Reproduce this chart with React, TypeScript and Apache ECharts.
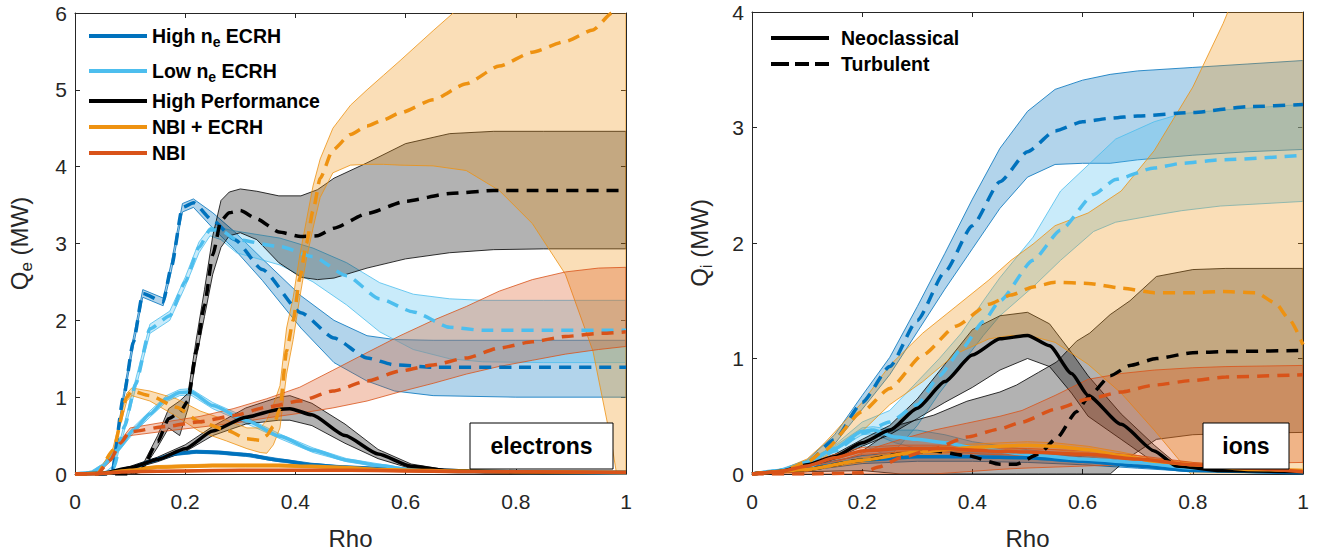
import React, { useEffect, useRef } from 'react';
import * as echarts from 'echarts';

// ---------------- Colours / fonts ----------------
const C_HNE = '#0072BD';
const C_LNE = '#4DBEEE';
const C_HP = '#000000';
const C_NE = '#EE9211';
const C_NBI = '#D95319';
const FONT = '"Liberation Sans", Arial, Helvetica, sans-serif';
const AXIS_C = '#262626';

// ---------------- Tick values ----------------
const rhoTicks = [0, 0.2, 0.4, 0.6, 0.8, 1];
const qeTicks = [0, 1, 2, 3, 4, 5, 6];
const qiTicks = [0, 1, 2, 3, 4];

// ================= ELECTRONS (left) =================
// High ne ECRH
const eHneTurbRho = [0, 0.05, 0.067, 0.088, 0.106, 0.123, 0.16, 0.175, 0.195, 0.215, 0.25, 0.29, 0.34, 0.41, 0.47, 0.53, 0.58, 0.65, 0.8, 1.0];
const eHneTurb = [0, 0, 0.02, 1.0, 1.72, 2.35, 2.24, 2.7, 3.47, 3.53, 3.3, 3.05, 2.66, 2.1, 1.77, 1.51, 1.42, 1.39, 1.39, 1.39];
const eHneTurbLo = [0, 0, 0, 0.95, 1.66, 2.3, 2.19, 2.64, 3.41, 3.47, 3.2, 2.92, 2.52, 1.9, 1.45, 1.21, 1.08, 1.02, 1.0, 1.0];
const eHneTurbHi = [0, 0, 0.04, 1.05, 1.78, 2.4, 2.29, 2.76, 3.52, 3.58, 3.4, 3.15, 2.8, 2.32, 2.0, 1.8, 1.75, 1.74, 1.74, 1.74];
const eHneNeoRho = [0, 0.06, 0.1, 0.14, 0.18, 0.22, 0.26, 0.31, 0.37, 0.43, 0.49, 0.55, 0.65, 0.8, 1.0];
const eHneNeo = [0, 0.01, 0.07, 0.17, 0.26, 0.29, 0.28, 0.25, 0.18, 0.12, 0.09, 0.07, 0.05, 0.03, 0.02];
const eHneNeoLo = [0, 0, 0.05, 0.15, 0.24, 0.27, 0.26, 0.23, 0.16, 0.11, 0.08, 0.06, 0.04, 0.02, 0.01];
const eHneNeoHi = [0, 0.02, 0.09, 0.19, 0.28, 0.31, 0.3, 0.27, 0.2, 0.14, 0.1, 0.08, 0.06, 0.04, 0.03];
// Low ne ECRH
const eLneTurbRho = [0, 0.05, 0.07, 0.09, 0.11, 0.136, 0.172, 0.2, 0.225, 0.245, 0.265, 0.293, 0.372, 0.432, 0.493, 0.553, 0.614, 0.68, 0.74, 0.85, 1.0];
const eLneTurb = [0, 0, 0.08, 0.62, 1.17, 1.89, 2.06, 2.5, 2.95, 3.18, 3.17, 3.05, 2.96, 2.83, 2.58, 2.28, 2.11, 1.91, 1.87, 1.87, 1.87];
const eLneTurbLo = [0, 0, 0.05, 0.57, 1.11, 1.83, 2.0, 2.44, 2.88, 3.1, 3.05, 2.88, 2.72, 2.5, 2.2, 1.85, 1.62, 1.5, 1.46, 1.45, 1.45];
const eLneTurbHi = [0, 0, 0.11, 0.67, 1.23, 1.95, 2.12, 2.56, 3.02, 3.21, 3.2, 3.16, 3.07, 2.94, 2.75, 2.49, 2.34, 2.28, 2.26, 2.26, 2.26];
const eLneNeoRho = [0, 0.03, 0.05, 0.076, 0.106, 0.136, 0.166, 0.19, 0.21, 0.25, 0.31, 0.372, 0.432, 0.493, 0.553, 0.614, 0.7, 0.85, 1.0];
const eLneNeo = [0, 0.02, 0.1, 0.31, 0.57, 0.78, 0.98, 1.06, 1.07, 0.89, 0.7, 0.49, 0.31, 0.18, 0.11, 0.05, 0.03, 0.02, 0.01];
const eLneNeoLo = [0, 0, 0.07, 0.27, 0.53, 0.74, 0.94, 1.02, 1.03, 0.85, 0.66, 0.46, 0.28, 0.16, 0.09, 0.04, 0.02, 0.01, 0];
const eLneNeoHi = [0, 0.04, 0.13, 0.35, 0.61, 0.82, 1.02, 1.1, 1.11, 0.93, 0.74, 0.52, 0.34, 0.2, 0.13, 0.06, 0.04, 0.03, 0.02];
// High Performance
const eHpTurbRho = [0, 0.1, 0.12, 0.15, 0.17, 0.19, 0.205, 0.22, 0.235, 0.25, 0.265, 0.28, 0.3, 0.33, 0.37, 0.41, 0.44, 0.47, 0.53, 0.6, 0.68, 0.76, 0.85, 1.0];
const eHpTurb = [0, 0, 0.05, 0.42, 0.72, 0.8, 0.95, 1.6, 2.2, 2.85, 3.3, 3.4, 3.43, 3.32, 3.15, 3.09, 3.1, 3.2, 3.39, 3.55, 3.65, 3.69, 3.69, 3.69];
const eHpTurbLo = [0, 0, 0.02, 0.35, 0.6, 0.5, 0.85, 1.5, 2.05, 2.6, 2.95, 3.1, 3.14, 3.05, 2.75, 2.56, 2.53, 2.55, 2.68, 2.8, 2.88, 2.92, 2.93, 2.93];
const eHpTurbHi = [0, 0, 0.08, 0.5, 0.85, 0.95, 1.05, 1.75, 2.4, 3.1, 3.56, 3.67, 3.71, 3.68, 3.62, 3.62, 3.7, 3.85, 4.05, 4.3, 4.43, 4.46, 4.46, 4.46];
const eHpNeoRho = [0, 0.05, 0.1, 0.15, 0.2, 0.25, 0.31, 0.37, 0.39, 0.43, 0.49, 0.55, 0.61, 0.67, 0.75, 0.85, 1.0];
const eHpNeo = [0, 0.01, 0.08, 0.19, 0.33, 0.56, 0.74, 0.84, 0.85, 0.77, 0.5, 0.26, 0.1, 0.05, 0.03, 0.02, 0.02];
const eHpNeoLo = [0, 0.01, 0.06, 0.16, 0.29, 0.5, 0.65, 0.7, 0.7, 0.63, 0.4, 0.2, 0.07, 0.03, 0.02, 0.02, 0.02];
const eHpNeoHi = [0, 0.01, 0.1, 0.22, 0.38, 0.62, 0.86, 1.0, 1.02, 0.92, 0.65, 0.32, 0.13, 0.06, 0.03, 0.02, 0.02];
// NBI + ECRH
const eNeTurbRho = [0, 0.04, 0.069, 0.094, 0.103, 0.136, 0.184, 0.227, 0.275, 0.312, 0.336, 0.348, 0.36, 0.372, 0.384, 0.396, 0.408, 0.42, 0.432, 0.445, 0.468, 0.5, 0.53, 0.56, 0.59, 0.65, 0.71, 0.77, 0.83, 0.89, 0.94, 0.975, 1.0];
const eNeTurb = [0, 0, 0.31, 1.0, 1.08, 1.02, 0.87, 0.68, 0.57, 0.46, 0.44, 0.5, 0.62, 0.85, 1.6, 2.0, 2.55, 3.0, 3.43, 3.85, 4.22, 4.42, 4.53, 4.61, 4.7, 4.87, 5.08, 5.31, 5.49, 5.63, 5.78, 6.0, 6.15];
const eNeTurbLo = [0, 0, 0.28, 0.95, 1.02, 0.95, 0.75, 0.55, 0.43, 0.33, 0.28, 0.27, 0.38, 0.6, 1.3, 1.75, 2.3, 2.8, 3.2, 3.6, 3.92, 4.02, 4.03, 4.03, 4.02, 4.01, 3.95, 3.69, 3.26, 2.6, 1.6, 0.35, -0.75];
const eNeTurbHi = [0, 0, 0.34, 1.05, 1.12, 1.08, 0.98, 0.82, 0.7, 0.6, 0.6, 0.7, 0.9, 1.15, 1.9, 2.3, 2.85, 3.3, 3.75, 4.1, 4.5, 4.8, 5.0, 5.19, 5.38, 5.77, 6.15, 6.6, 7.1, 7.6, 8.0, 8.3, 8.5];
const eNeNeoRho = [0, 0.05, 0.1, 0.15, 0.2, 0.25, 0.31, 0.37, 0.43, 0.5, 0.55, 0.61, 0.68, 0.8, 1.0];
const eNeNeo = [0, 0.01, 0.05, 0.09, 0.1, 0.11, 0.11, 0.11, 0.1, 0.08, 0.06, 0.05, 0.04, 0.03, 0.02];
const eNeNeoLo = [0, 0, 0.03, 0.07, 0.08, 0.09, 0.09, 0.09, 0.08, 0.06, 0.05, 0.04, 0.03, 0.02, 0.01];
const eNeNeoHi = [0, 0.02, 0.07, 0.11, 0.12, 0.13, 0.13, 0.13, 0.12, 0.1, 0.08, 0.06, 0.05, 0.04, 0.03];
// NBI
const eNbiTurbRho = [0, 0.04, 0.064, 0.082, 0.1, 0.166, 0.227, 0.287, 0.348, 0.408, 0.468, 0.53, 0.59, 0.65, 0.71, 0.77, 0.83, 0.89, 0.95, 1.0];
const eNbiTurb = [0, 0, 0.18, 0.4, 0.55, 0.62, 0.68, 0.76, 0.87, 0.95, 1.08, 1.21, 1.34, 1.42, 1.51, 1.64, 1.72, 1.79, 1.83, 1.85];
const eNbiTurbLo = [0, 0, 0.16, 0.37, 0.5, 0.56, 0.61, 0.66, 0.73, 0.79, 0.86, 0.95, 1.07, 1.18, 1.3, 1.4, 1.48, 1.56, 1.62, 1.66];
const eNbiTurbHi = [0, 0, 0.2, 0.43, 0.6, 0.68, 0.75, 0.85, 0.98, 1.13, 1.35, 1.58, 1.8, 2.0, 2.18, 2.38, 2.53, 2.63, 2.68, 2.69];
const eNbiNeoRho = [0, 0.04, 0.07, 0.1, 0.2, 0.3, 0.4, 0.5, 0.6, 0.7, 0.8, 1.0];
const eNbiNeo = [0, 0, 0.02, 0.03, 0.04, 0.05, 0.05, 0.05, 0.04, 0.03, 0.03, 0.02];
const eNbiNeoLo = [0, 0, 0.01, 0.02, 0.03, 0.04, 0.04, 0.04, 0.03, 0.02, 0.02, 0.01];
const eNbiNeoHi = [0, 0, 0.03, 0.04, 0.05, 0.06, 0.06, 0.06, 0.05, 0.04, 0.04, 0.03];

// ================= IONS (right) =================
const iHneTurbRho = [0, 0.05, 0.1, 0.15, 0.2, 0.25, 0.3, 0.35, 0.4, 0.45, 0.5, 0.55, 0.6, 0.65, 0.7, 0.8, 0.9, 1.0];
const iHneTurb = [0, 0.02, 0.1, 0.3, 0.62, 0.93, 1.33, 1.75, 2.15, 2.53, 2.79, 2.97, 3.05, 3.08, 3.1, 3.13, 3.18, 3.2];
const iHneTurbLo = [0, 0.01, 0.08, 0.26, 0.56, 0.86, 1.23, 1.6, 1.95, 2.3, 2.57, 2.68, 2.69, 2.69, 2.72, 2.76, 2.79, 2.81];
const iHneTurbHi = [0, 0.03, 0.12, 0.34, 0.68, 1.01, 1.45, 1.91, 2.38, 2.82, 3.14, 3.33, 3.41, 3.46, 3.49, 3.52, 3.55, 3.58];
const iHneNeoRho = [0, 0.1, 0.2, 0.3, 0.4, 0.5, 0.6, 0.7, 0.8, 1.0];
const iHneNeo = [0, 0.05, 0.12, 0.15, 0.15, 0.14, 0.11, 0.07, 0.03, 0.01];
const iHneNeoLo = [0, 0.03, 0.09, 0.11, 0.11, 0.1, 0.08, 0.05, 0.02, 0];
const iHneNeoHi = [0, 0.07, 0.16, 0.2, 0.2, 0.19, 0.15, 0.1, 0.05, 0.02];
const iLneTurbRho = [0, 0.1, 0.15, 0.2, 0.25, 0.3, 0.34, 0.38, 0.42, 0.45, 0.51, 0.56, 0.62, 0.66, 0.73, 0.78, 0.85, 1.0];
const iLneTurb = [0, 0.05, 0.2, 0.35, 0.45, 0.6, 0.85, 1.08, 1.32, 1.5, 1.85, 2.11, 2.42, 2.55, 2.65, 2.69, 2.72, 2.76];
const iLneTurbLo = [0, 0.04, 0.15, 0.25, 0.15, 0.42, 0.7, 0.95, 1.2, 1.37, 1.62, 1.85, 2.1, 2.18, 2.24, 2.28, 2.32, 2.36];
const iLneTurbHi = [0, 0.06, 0.25, 0.45, 0.55, 0.8, 1.0, 1.22, 1.5, 1.7, 2.05, 2.45, 2.72, 2.9, 3.05, 3.12, 3.15, 3.2];
const iLneNeoRho = [0, 0.05, 0.1, 0.15, 0.2, 0.22, 0.26, 0.3, 0.35, 0.4, 0.5, 0.6, 0.7, 0.8, 1.0];
const iLneNeo = [0, 0.03, 0.1, 0.22, 0.37, 0.38, 0.32, 0.3, 0.27, 0.23, 0.17, 0.13, 0.1, 0.05, 0.02];
const iLneNeoLo = [0, 0.02, 0.08, 0.2, 0.34, 0.35, 0.27, 0.22, 0.2, 0.18, 0.13, 0.1, 0.07, 0.03, 0.01];
const iLneNeoHi = [0, 0.04, 0.12, 0.24, 0.4, 0.41, 0.38, 0.38, 0.34, 0.28, 0.21, 0.16, 0.12, 0.07, 0.03];
const iHpTurbRho = [0, 0.1, 0.2, 0.27, 0.33, 0.39, 0.45, 0.48, 0.52, 0.553, 0.589, 0.613, 0.65, 0.686, 0.734, 0.8, 0.86, 1.0];
const iHpTurb = [0, 0.04, 0.12, 0.17, 0.2, 0.16, 0.085, 0.085, 0.17, 0.31, 0.54, 0.68, 0.85, 0.94, 1.0, 1.05, 1.06, 1.07];
const iHpTurbLo = [0, 0.02, 0.03, 0, 0, 0, 0, 0, 0, 0, 0, 0, 0, 0.15, 0.3, 0.34, 0.35, 0.36];
const iHpTurbHi = [0, 0.06, 0.2, 0.43, 0.51, 0.63, 0.71, 0.77, 0.88, 0.97, 1.15, 1.22, 1.38, 1.5, 1.71, 1.77, 1.78, 1.78];
const iHpNeoRho = [0, 0.05, 0.1, 0.15, 0.2, 0.25, 0.3, 0.35, 0.4, 0.45, 0.5, 0.54, 0.58, 0.61, 0.67, 0.73, 0.77, 0.85, 1.0];
const iHpNeo = [0, 0.02, 0.08, 0.15, 0.27, 0.38, 0.57, 0.8, 1.03, 1.17, 1.2, 1.11, 0.87, 0.68, 0.43, 0.2, 0.07, 0.03, 0.02];
const iHpNeoLo = [0, 0.02, 0.07, 0.13, 0.24, 0.34, 0.48, 0.62, 0.75, 0.9, 1.0, 0.93, 0.7, 0.5, 0.3, 0.1, 0.03, 0.02, 0.02];
const iHpNeoHi = [0, 0.02, 0.09, 0.17, 0.3, 0.42, 0.65, 0.95, 1.25, 1.37, 1.4, 1.3, 1.05, 0.85, 0.52, 0.25, 0.09, 0.04, 0.02];
const iNeTurbRho = [0, 0.05, 0.1, 0.13, 0.2, 0.25, 0.31, 0.37, 0.43, 0.47, 0.51, 0.55, 0.61, 0.67, 0.73, 0.8, 0.855, 0.915, 0.95, 0.975, 1.0];
const iNeTurb = [0, 0.02, 0.1, 0.2, 0.54, 0.74, 1.03, 1.28, 1.47, 1.55, 1.62, 1.66, 1.65, 1.61, 1.57, 1.57, 1.58, 1.57, 1.48, 1.34, 1.12];
const iNeTurbLo = [0, 0.01, 0.07, 0.14, 0.37, 0.6, 0.8, 1.04, 1.17, 1.2, 1.19, 1.14, 0.95, 0.7, 0.38, -0.02, -0.5, -1.0, -1.3, -1.6, -2.0];
const iNeTurbHi = [0, 0.03, 0.13, 0.26, 0.62, 0.94, 1.22, 1.45, 1.68, 1.85, 1.99, 2.15, 2.26, 2.45, 2.8, 3.35, 3.9, 4.6, 5.0, 5.3, 5.6];
const iNeNeoRho = [0, 0.1, 0.2, 0.3, 0.4, 0.5, 0.55, 0.61, 0.67, 0.73, 0.8, 0.9, 1.0];
const iNeNeo = [0, 0.04, 0.12, 0.19, 0.23, 0.25, 0.24, 0.21, 0.16, 0.11, 0.08, 0.04, 0.03];
const iNeNeoLo = [0, 0.03, 0.1, 0.16, 0.2, 0.22, 0.21, 0.18, 0.13, 0.09, 0.06, 0.03, 0.02];
const iNeNeoHi = [0, 0.05, 0.14, 0.22, 0.26, 0.28, 0.27, 0.24, 0.19, 0.13, 0.1, 0.05, 0.04];
const iNbiTurbRho = [0, 0.1, 0.2, 0.23, 0.27, 0.33, 0.39, 0.45, 0.49, 0.55, 0.61, 0.67, 0.73, 0.8, 0.86, 1.0];
const iNbiTurb = [0, 0, 0.01, 0.06, 0.14, 0.22, 0.32, 0.39, 0.45, 0.56, 0.65, 0.71, 0.77, 0.81, 0.84, 0.86];
const iNbiTurbLo = [0, 0, 0, 0, 0, 0, 0.02, 0.04, 0.05, 0.06, 0.07, 0.08, 0.08, 0.09, 0.09, 0.1];
const iNbiTurbHi = [0, 0.02, 0.18, 0.24, 0.3, 0.38, 0.44, 0.5, 0.55, 0.68, 0.82, 0.87, 0.9, 0.92, 0.93, 0.94];
const iNbiNeoRho = [0, 0.05, 0.1, 0.15, 0.2, 0.27, 0.35, 0.43, 0.5, 0.61, 0.7, 0.8, 0.9, 1.0];
const iNbiNeo = [0, 0.02, 0.07, 0.14, 0.2, 0.22, 0.22, 0.2, 0.19, 0.17, 0.13, 0.08, 0.05, 0.02];
const iNbiNeoLo = [0, 0.01, 0.05, 0.11, 0.17, 0.19, 0.19, 0.17, 0.16, 0.14, 0.1, 0.06, 0.03, 0.01];
const iNbiNeoHi = [0, 0.03, 0.09, 0.17, 0.23, 0.25, 0.25, 0.23, 0.22, 0.2, 0.16, 0.1, 0.07, 0.03];

// ---------------- helpers ----------------
function rgba(hex: string, a: number) {
  const n = parseInt(hex.slice(1), 16);
  return `rgba(${(n >> 16) & 255},${(n >> 8) & 255},${n & 255},${a})`;
}

function band(name: string, ax: number, rho: number[], lo: number[], hi: number[], color: string) {
  const rows = rho.map((x, i) => [x, lo[i], hi[i]]);
  return {
    type: 'custom',
    name,
    xAxisIndex: ax,
    yAxisIndex: ax,
    clip: true,
    silent: true,
    data: rows,
    renderItem: (params: any, api: any) => {
      if (params.dataIndex !== 0) return null;
      const up = rows.map((r) => api.coord([r[0], r[2]]));
      const dn = rows.map((r) => api.coord([r[0], r[1]])).reverse();
      return {
        type: 'polygon',
        shape: { points: up.concat(dn) },
        style: { fill: rgba(color, 0.3), stroke: color, lineWidth: 0.8 },
      };
    },
  };
}

function line(name: string, ax: number, rho: number[], q: number[], color: string, dashed: boolean) {
  return {
    type: 'line',
    name,
    xAxisIndex: ax,
    yAxisIndex: ax,
    data: rho.map((x, i) => [x, q[i]]),
    showSymbol: false,
    symbol: 'none',
    smooth: 0.2,
    smoothMonotone: 'x',
    clip: true,
    silent: true,
    color,
    lineStyle: { color, width: 3.5, type: dashed ? [12, 8] : 'solid', cap: 'butt' },
  };
}

const N_HNE = 'High ne ECRH';
const N_LNE = 'Low ne ECRH';
const N_HP = 'High Performance';
const N_NE = 'NBI + ECRH';
const N_NBI = 'NBI';

function scenario(name: string, ax: number, color: string,
  tR: number[], t: number[], tLo: number[], tHi: number[],
  nR: number[], n: number[], nLo: number[], nHi: number[]) {
  return [
    band(name, ax, tR, tLo, tHi, color),
    line(name, ax, tR, t, color, true),
    band(name, ax, nR, nLo, nHi, color),
    line(name, ax, nR, n, color, false),
  ];
}

const axisCommon = {
  axisLine: { show: true, onZero: false, lineStyle: { color: AXIS_C, width: 1 } },
  axisTick: { show: true, inside: true, length: 5, lineStyle: { color: AXIS_C, width: 1 } },
  splitLine: { show: false },
};

function xAxes(grid: number) {
  return [
    {
      gridIndex: grid, type: 'value', min: rhoTicks[0], max: rhoTicks[rhoTicks.length - 1], interval: 0.2,
      position: 'bottom', name: 'Rho', nameLocation: 'middle', nameGap: 52,
      nameTextStyle: { fontSize: 24, color: AXIS_C, fontFamily: FONT },
      axisLabel: { fontSize: 21, color: AXIS_C, fontFamily: FONT, margin: 17 },
      ...axisCommon,
    },
    {
      gridIndex: grid, type: 'value', min: rhoTicks[0], max: rhoTicks[rhoTicks.length - 1], interval: 0.2,
      position: 'top', axisLabel: { show: false }, ...axisCommon,
    },
  ];
}

function yAxes(grid: number, ticks: number[], sub: string, gap: number) {
  return [
    {
      gridIndex: grid, type: 'value', min: ticks[0], max: ticks[ticks.length - 1], interval: 1,
      position: 'left', name: `{q|Q}{s|${sub}}{q| (MW)}`, nameLocation: 'middle', nameRotate: 90, nameGap: gap,
      nameTextStyle: {
        color: AXIS_C, fontFamily: FONT, fontSize: 24,
        rich: {
          q: { fontSize: 24, color: AXIS_C, fontFamily: FONT, lineHeight: 32, verticalAlign: 'middle' },
          s: { fontSize: 17, color: AXIS_C, fontFamily: FONT, lineHeight: 17, verticalAlign: 'bottom' },
        },
      },
      axisLabel: { fontSize: 21, color: AXIS_C, fontFamily: FONT, margin: 8 },
      ...axisCommon,
    },
    {
      gridIndex: grid, type: 'value', min: ticks[0], max: ticks[ticks.length - 1], interval: 1,
      position: 'right', axisLabel: { show: false }, ...axisCommon,
    },
  ];
}

const LEG_FS = 19.5;
const legendRich = {
  b: { fontFamily: FONT, fontSize: LEG_FS, fontWeight: 'bold', color: '#000', lineHeight: 26, verticalAlign: 'middle' },
  bp: { fontFamily: FONT, fontSize: LEG_FS, fontWeight: 'bold', color: '#000', lineHeight: 26, verticalAlign: 'middle', padding: [0, 0, 0, 7] },
  s: { fontFamily: FONT, fontSize: 14, fontWeight: 'bold', color: '#000', lineHeight: 14, verticalAlign: 'bottom' },
};

function legendFmt(name: string) {
  if (name === N_HNE) return '{b|High n}{s|e}{b| ECRH}';
  if (name === N_LNE) return '{b|Low n}{s|e}{b| ECRH}';
  if (name === 'Neoclassical' || name === 'Turbulent') return `{bp|${name}}`;
  return `{b|${name}}`;
}

function legendOne(name: string, left: number, top: number, color: string, icon: string) {
  return {
    show: true, left, top, padding: 0, orient: 'horizontal', selectedMode: false,
    itemWidth: 58, itemHeight: 4,
    data: [{ name, icon, itemStyle: { color } }],
    formatter: legendFmt,
    textStyle: { fontFamily: FONT, fontSize: LEG_FS, fontWeight: 'bold', color: '#000', rich: legendRich },
  };
}

const DASH_ICON = 'path://M0,0H18V4H0Z M24,0H38V4H24Z M44,0H58V4H44Z';

export default function App() {
  const ref = useRef<HTMLDivElement>(null);
  useEffect(() => {
    if (!ref.current) return;
    const chart = echarts.init(ref.current, undefined, { renderer: 'svg' });
    const series: any[] = [
      ...scenario(N_HNE, 0, C_HNE, eHneTurbRho, eHneTurb, eHneTurbLo, eHneTurbHi, eHneNeoRho, eHneNeo, eHneNeoLo, eHneNeoHi),
      ...scenario(N_LNE, 0, C_LNE, eLneTurbRho, eLneTurb, eLneTurbLo, eLneTurbHi, eLneNeoRho, eLneNeo, eLneNeoLo, eLneNeoHi),
      ...scenario(N_HP, 0, C_HP, eHpTurbRho, eHpTurb, eHpTurbLo, eHpTurbHi, eHpNeoRho, eHpNeo, eHpNeoLo, eHpNeoHi),
      ...scenario(N_NE, 0, C_NE, eNeTurbRho, eNeTurb, eNeTurbLo, eNeTurbHi, eNeNeoRho, eNeNeo, eNeNeoLo, eNeNeoHi),
      ...scenario(N_NBI, 0, C_NBI, eNbiTurbRho, eNbiTurb, eNbiTurbLo, eNbiTurbHi, eNbiNeoRho, eNbiNeo, eNbiNeoLo, eNbiNeoHi),
      ...scenario(N_HNE, 2, C_HNE, iHneTurbRho, iHneTurb, iHneTurbLo, iHneTurbHi, iHneNeoRho, iHneNeo, iHneNeoLo, iHneNeoHi),
      ...scenario(N_LNE, 2, C_LNE, iLneTurbRho, iLneTurb, iLneTurbLo, iLneTurbHi, iLneNeoRho, iLneNeo, iLneNeoLo, iLneNeoHi),
      ...scenario(N_HP, 2, C_HP, iHpTurbRho, iHpTurb, iHpTurbLo, iHpTurbHi, iHpNeoRho, iHpNeo, iHpNeoLo, iHpNeoHi),
      ...scenario(N_NE, 2, C_NE, iNeTurbRho, iNeTurb, iNeTurbLo, iNeTurbHi, iNeNeoRho, iNeNeo, iNeNeoLo, iNeNeoHi),
      ...scenario(N_NBI, 2, C_NBI, iNbiTurbRho, iNbiTurb, iNbiTurbLo, iNbiTurbHi, iNbiNeoRho, iNbiNeo, iNbiNeoLo, iNbiNeoHi),
      { type: 'line', name: 'Neoclassical', xAxisIndex: 2, yAxisIndex: 2, data: [], color: '#000', lineStyle: { color: '#000', width: 3 } },
      { type: 'line', name: 'Turbulent', xAxisIndex: 2, yAxisIndex: 2, data: [], color: '#000', lineStyle: { color: '#000', width: 3, type: 'dashed' } },
    ];
    const option: any = {
      animation: false,
      backgroundColor: '#ffffff',
      textStyle: { fontFamily: FONT },
      grid: [
        { left: 75, top: 13, width: 551, height: 468 },
        { left: 752, top: 12, width: 551, height: 468 },
      ],
      xAxis: [...xAxes(0), ...xAxes(1)],
      yAxis: [...yAxes(0, qeTicks, 'e', 40), ...yAxes(1, qiTicks, 'i', 37)],
      legend: [
        legendOne(N_HNE, 89, 26, C_HNE, 'rect'),
        legendOne(N_LNE, 89, 61, C_LNE, 'rect'),
        legendOne(N_HP, 89, 91, C_HP, 'rect'),
        legendOne(N_NE, 89, 117, C_NE, 'rect'),
        legendOne(N_NBI, 89, 143, C_NBI, 'rect'),
        legendOne('Neoclassical', 771, 28, '#000', 'rect'),
        legendOne('Turbulent', 771, 54, '#000', DASH_ICON),
      ],
      graphic: [
        { type: 'rect', z: 100, shape: { x: 470, y: 423, width: 143, height: 46 }, style: { fill: '#ffffff', stroke: '#000', lineWidth: 1 } },
        { type: 'text', z: 101, x: 541.5, y: 446, style: { text: 'electrons', fontFamily: FONT, fontSize: 23, fontWeight: 'bold', fill: '#000', align: 'center', verticalAlign: 'middle', textAlign: 'center', textVerticalAlign: 'middle' } },
        { type: 'rect', z: 100, shape: { x: 1203, y: 423, width: 86, height: 46 }, style: { fill: '#ffffff', stroke: '#000', lineWidth: 1 } },
        { type: 'text', z: 101, x: 1246, y: 446, style: { text: 'ions', fontFamily: FONT, fontSize: 23, fontWeight: 'bold', fill: '#000', align: 'center', verticalAlign: 'middle', textAlign: 'center', textVerticalAlign: 'middle' } },
      ],
      series,
    };
    chart.setOption(option);
    return () => chart.dispose();
  }, []);
  return <div ref={ref} style={{ position: 'absolute', left: 0, top: 0, width: 1323, height: 555 }} />;
}
